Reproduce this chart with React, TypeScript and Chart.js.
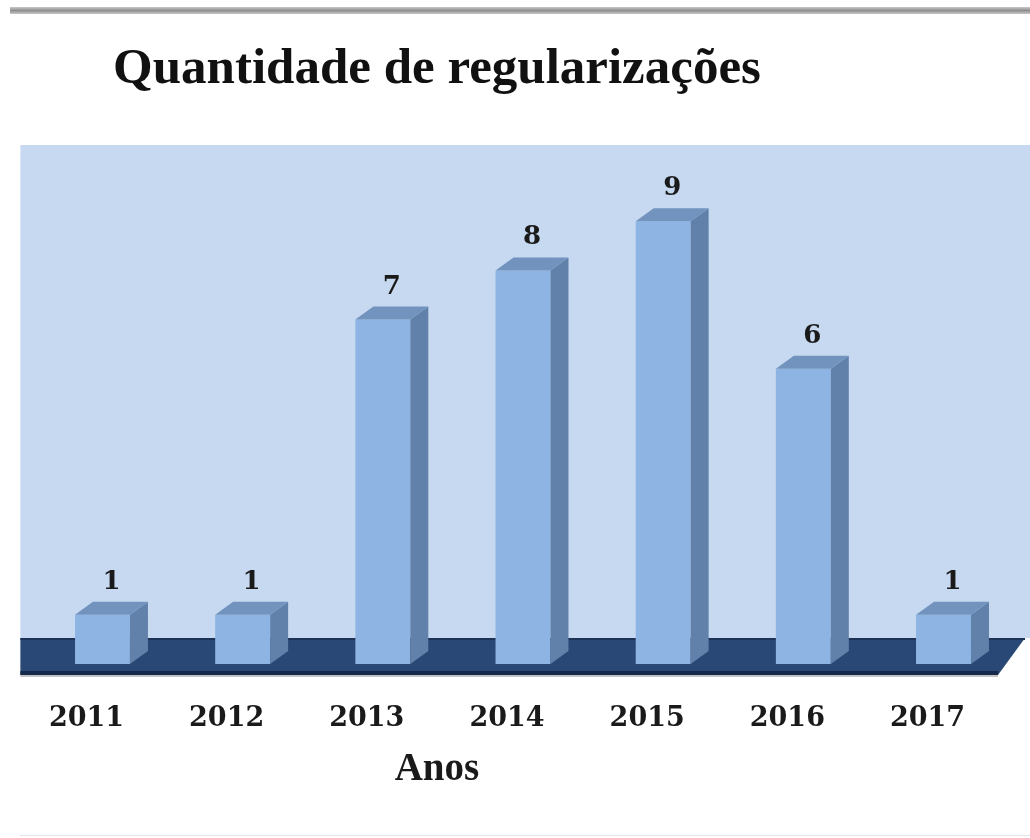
import React, { useEffect, useRef } from 'react';
import { Chart, registerables } from 'chart.js';

Chart.register(...registerables);

const chartTitle = 'Quantidade de regularizações';
const axisTitle = 'Anos';
const years = ['2011', '2012', '2013', '2014', '2015', '2016', '2017'];
const counts = [1, 1, 7, 8, 9, 6, 1];
const yMin = -0.2236;
const yMax = 10.549;

const DX = 18;
const DY = 13;

const decor = {
  id: 'decor',
  beforeDraw(chart: any) {
    const { ctx, width, height } = chart;
    ctx.save();
    ctx.fillStyle = '#ffffff';
    ctx.fillRect(0, 0, width, height);
    const g = ctx.createLinearGradient(0, 7, 0, 14);
    g.addColorStop(0, '#c8c8c8');
    g.addColorStop(0.5, '#8f8f8f');
    g.addColorStop(1, '#c8c8c8');
    ctx.fillStyle = g;
    ctx.fillRect(10, 7, width - 10, 7);
    ctx.fillStyle = '#e4e4e4';
    ctx.fillRect(20, height - 3, width - 20, 1);
    ctx.fillStyle = '#111111';
    ctx.font = 'bold 51px "Liberation Serif"';
    ctx.textAlign = 'left';
    ctx.textBaseline = 'alphabetic';
    ctx.fillText(chartTitle, 113, 83);
    ctx.restore();
  },
  beforeDatasetsDraw(chart: any) {
    const { ctx, width, chartArea: a, scales } = chart;
    const left = a.left - 12;
    const back = scales.y.getPixelForValue(0.528);
    const front = a.bottom;
    const frontRight = a.right - 15.6;
    ctx.save();
    ctx.fillStyle = '#C6D9F1';
    ctx.fillRect(left, a.top, width - left, back - a.top);
    ctx.fillStyle = '#2A4876';
    ctx.beginPath();
    ctx.moveTo(left, back);
    ctx.lineTo(frontRight + 27, back);
    ctx.lineTo(frontRight, front);
    ctx.lineTo(left, front);
    ctx.closePath();
    ctx.fill();
    ctx.fillStyle = '#1d3355';
    ctx.fillRect(left, back, frontRight + 27 - left, 2);
    ctx.fillStyle = '#16294A';
    ctx.fillRect(left, front - 4, frontRight - left, 4);
    ctx.fillStyle = '#c4c4c4';
    ctx.fillRect(left, front, frontRight - left, 2);
    ctx.restore();
  },
  afterDatasetsDraw(chart: any) {
    const { ctx } = chart;
    const meta = chart.getDatasetMeta(0);
    ctx.save();
    meta.data.forEach((bar: any, i: number) => {
      const { x, y, base, width } = bar.getProps(['x', 'y', 'base', 'width'], true);
      const l = x - width / 2;
      const r = x + width / 2;
      ctx.fillStyle = '#6281AA';
      ctx.beginPath();
      ctx.moveTo(r, y);
      ctx.lineTo(r + DX, y - DY);
      ctx.lineTo(r + DX, base - DY);
      ctx.lineTo(r, base);
      ctx.closePath();
      ctx.fill();
      ctx.fillStyle = '#7193BE';
      ctx.beginPath();
      ctx.moveTo(l, y);
      ctx.lineTo(l + DX, y - DY);
      ctx.lineTo(r + DX, y - DY);
      ctx.lineTo(r, y);
      ctx.closePath();
      ctx.fill();
      ctx.fillStyle = '#1a1a1a';
      ctx.font = 'bold 26px "DejaVu Serif"';
      ctx.textAlign = 'center';
      ctx.textBaseline = 'alphabetic';
      ctx.fillText(String(counts[i]), x + DX / 2, y - DY - 13);
    });
    ctx.restore();
  },
  afterDraw(chart: any) {
    const { ctx, scales } = chart;
    const xs = scales.x;
    const cx = (xs.getPixelForValue(2) + xs.getPixelForValue(3)) / 2 - 16;
    ctx.save();
    ctx.fillStyle = '#1a1a1a';
    ctx.font = 'bold 39px "Liberation Serif"';
    ctx.textAlign = 'center';
    ctx.textBaseline = 'alphabetic';
    ctx.fillText(axisTitle, cx, 780);
    ctx.restore();
  },
};

export default function App() {
  const ref = useRef<HTMLCanvasElement | null>(null);
  useEffect(() => {
    if (!ref.current) return;
    const chart = new Chart(ref.current, {
      type: 'bar',
      data: {
        labels: years,
        datasets: [
          {
            data: counts,
            backgroundColor: '#8DB4E2',
            borderWidth: 0,
            categoryPercentage: 1,
            barPercentage: 0.392,
          },
        ],
      },
      options: {
        animation: false,
        responsive: false,
        devicePixelRatio: 1,
        layout: { padding: { left: 32.4, right: 16.4, top: 145, bottom: 103 } },
        plugins: {
          legend: { display: false },
          title: { display: false },
          tooltip: { enabled: false },
        },
        scales: {
          x: {
            grid: { display: false, drawTicks: false },
            border: { display: false },
            afterFit: (s: any) => {
              s.height = 60;
            },
            ticks: {
              color: '#1a1a1a',
              font: { family: '"DejaVu Serif"', size: 27, weight: 'bold' },
              padding: 28,
              labelOffset: -16,
              maxRotation: 0,
              autoSkip: false,
            },
          },
          y: {
            display: false,
            min: yMin,
            max: yMax,
          },
        },
      },
      plugins: [decor],
    });
    return () => chart.destroy();
  }, []);
  return (
    <div style={{ position: 'absolute', left: 0, top: 0, width: 1030, height: 838 }}>
      <canvas ref={ref} width={1030} height={838} />
    </div>
  );
}
